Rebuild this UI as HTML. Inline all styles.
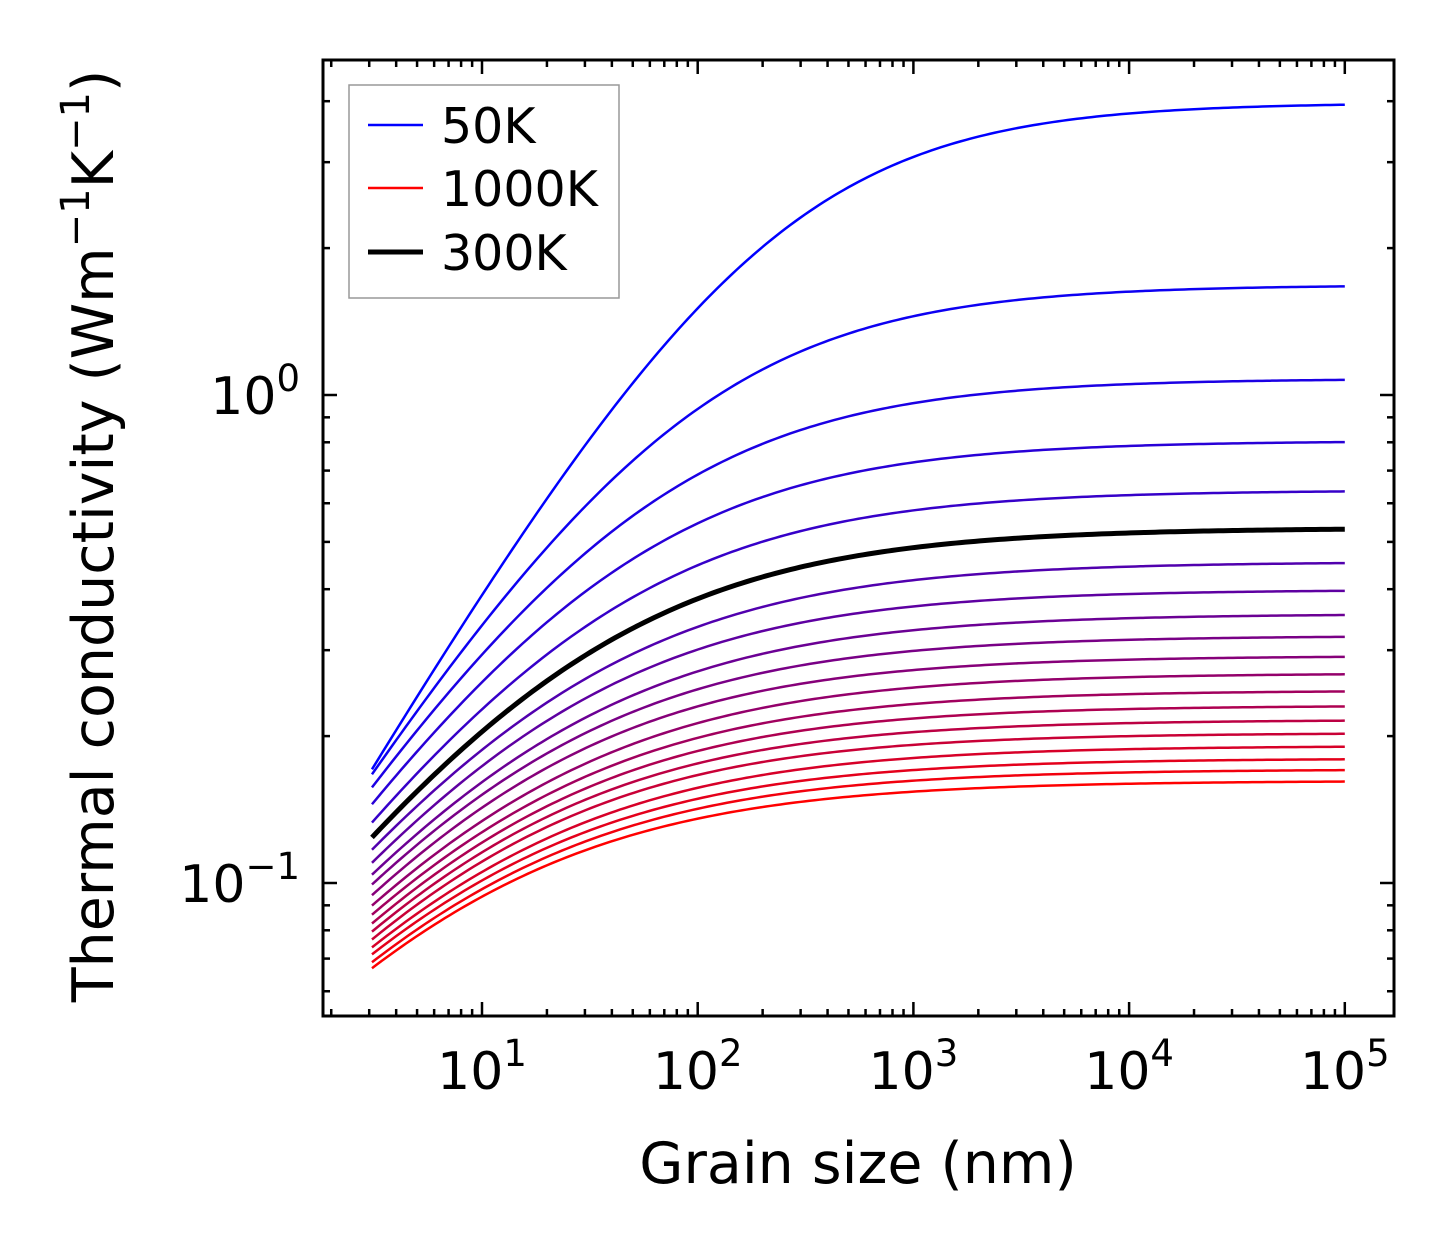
<!DOCTYPE html>
<html><head><meta charset="utf-8"><style>
body{margin:0;background:#fff;}
svg{display:block;font-family:"DejaVu Sans","Liberation Sans",sans-serif;}
</style></head><body>
<svg id="chart" width="1454" height="1254">
<g id="curves"></g>
<g id="ticks"></g>
<rect x="323" y="60" width="1071" height="956" fill="none" stroke="#000" stroke-width="3"/>
<text x="858" y="1183" font-size="57" text-anchor="middle">Grain size (nm)</text>
<text transform="translate(113,536) rotate(-90)" font-size="57" text-anchor="middle">Thermal conductivity (Wm<tspan dy="-24" font-size="40">−1</tspan><tspan dy="24">K</tspan><tspan dy="-24" font-size="40">−1</tspan><tspan dy="24">)</tspan></text>
<g>
<rect x="349" y="85" width="270" height="213" fill="#fff" stroke="#999" stroke-width="1.5"/>
<g><line x1="368" y1="125" x2="423" y2="125" stroke="#0000ff" stroke-width="2.5"/><text x="441" y="143" font-size="49">50K</text></g>
<g><line x1="368" y1="188" x2="423" y2="188" stroke="#ff0000" stroke-width="2.5"/><text x="441" y="206" font-size="49">1000K</text></g>
<g><line x1="368" y1="252" x2="423" y2="252" stroke="#000" stroke-width="5"/><text x="441" y="270" font-size="49">300K</text></g>
</g>
</svg>
<script>
const temperatures = [50,100,150,200,250,300,350,400,450,500,550,600,650,700,750,800,850,900,950,1000];
const kBulk = [3.97,1.68,1.08,0.805,0.638,0.534,0.455,0.399,0.356,0.321,0.292,0.269,0.248,0.231,0.216,0.203,0.191,0.180,0.171,0.162];
const kAtMinSize = [0.171,0.167,0.157,0.145,0.133,0.124,0.117,0.110,0.104,0.0993,0.0944,0.0899,0.0861,0.0826,0.0795,0.0766,0.0738,0.0714,0.0688,0.0669];
const shapeExponent = [0.75,0.70,0.67,0.65,0.63,0.61,0.60,0.60,0.59,0.59,0.59,0.58,0.58,0.58,0.58,0.58,0.57,0.57,0.57,0.57];
const xTickLabels = ["1","2","3","4","5"];
const yTickLabels = ["0","−1"];
const minSize = 3.09, maxSize = 1e5;

const NS="http://www.w3.org/2000/svg";
function X(L){return 482+215.7*(Math.log10(L)-1);}
function Y(k){return 395-488*Math.log10(k);}
const curves=document.getElementById('curves');
const order=[...temperatures.keys()].filter(i=>temperatures[i]!==300);
order.push(temperatures.indexOf(300));
order.forEach(i=>{
  const p=shapeExponent[i];
  const r=kBulk[i]/kAtMinSize[i]-1;
  const lam=minSize*Math.pow(r,1/p);
  let d="";
  for(let j=0;j<=200;j++){
    const lg=Math.log10(minSize)+(Math.log10(maxSize)-Math.log10(minSize))*j/200;
    const L=Math.pow(10,lg);
    const k=kBulk[i]/(1+Math.pow(lam/L,p));
    d+=(j?"L":"M")+X(L).toFixed(2)+" "+Y(k).toFixed(2);
  }
  const path=document.createElementNS(NS,'path');
  path.setAttribute('d',d);path.setAttribute('fill','none');
  const t=i/(temperatures.length-1);
  const is300=temperatures[i]===300;
  path.setAttribute('stroke',is300?'#000':`rgb(${Math.round(255*t)},0,${Math.round(255*(1-t))})`);
  path.setAttribute('stroke-width',is300?5:2.5);
  
  
  curves.appendChild(path);
});
const tk=document.getElementById('ticks');
function ln(x1,y1,x2,y2,w){const l=document.createElementNS(NS,'line');l.setAttribute('x1',x1);l.setAttribute('y1',y1);l.setAttribute('x2',x2);l.setAttribute('y2',y2);l.setAttribute('stroke','#000');l.setAttribute('stroke-width',w||2.5);tk.appendChild(l);}
for(let e=0;e<=5;e++)for(let m=1;m<10;m++){
  const x=X(m*Math.pow(10,e));if(x<324||x>1393)continue;
  const len=m===1?14:7;
  ln(x,1016,x,1016-len);ln(x,60,x,60+len);
}
for(let e=-2;e<=1;e++)for(let m=1;m<10;m++){
  const y=Y(m*Math.pow(10,e));if(y<61||y>1015)continue;
  const len=m===1?14:7;
  ln(323,y,323+len,y);ln(1394,y,1394-len,y);
}
xTickLabels.forEach((s,i)=>{
  const t=document.createElementNS(NS,'text');
  t.setAttribute('x',X(Math.pow(10,+s))+0);t.setAttribute('y',1089);
  t.setAttribute('font-size','52');t.setAttribute('text-anchor','middle');
  t.innerHTML='10<tspan dy="-23" font-size="37">'+s+'</tspan>';
  
  
  tk.appendChild(t);
});
yTickLabels.forEach((s,i)=>{
  const t=document.createElementNS(NS,'text');
  t.setAttribute('x',300);t.setAttribute('y',Y(Math.pow(10,-i))+19);
  t.setAttribute('font-size','52');t.setAttribute('text-anchor','end');
  t.innerHTML='10<tspan dy="-23" font-size="37">'+s+'</tspan>';
  
  
  tk.appendChild(t);
});
</script>
</body></html>
